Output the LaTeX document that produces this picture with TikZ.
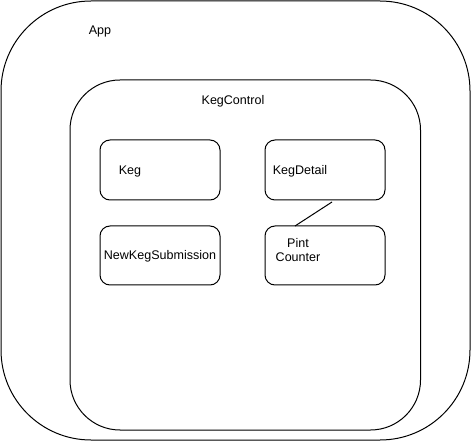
\documentclass[tikz,border=0pt]{standalone}
\usepackage{fontspec}
\setmainfont{Liberation Sans}
\begin{document}
\begin{tikzpicture}[x=0.75pt,y=-0.75pt,
  box/.style={draw=black,line width=0.75pt,rounded corners=#1},
  lbl/.style={font=\fontsize{9.4}{11.2}\selectfont,inner sep=0pt,text=black,align=center}]
\useasboundingbox (0,0) rectangle (471,441);
\fill[white] (0,0) rectangle (471,441);
\draw[box=67.5pt] (1,1) rectangle (470,440);
\draw[box=37.5pt] (70,80) rectangle (420.5,430);
\draw[box=7.5pt] (100,140) rectangle (220,200);
\draw[box=7.5pt] (265,140) rectangle (385,200);
\draw[box=7.5pt] (100,226) rectangle (220,285);
\draw[box=7.5pt] (265,226) rectangle (385,285);
\node[lbl] (app) at (100,31) {App};
\node[lbl] (kc) at (233,101) {KegControl};
\node[lbl] (keg) at (130,171) {Keg};
\node[lbl] (kd) at (300,171) {KegDetail};
\node[lbl] (nks) at (160,256) {NewKegSubmission};
\node[lbl] (pc) at (298,250) {Pint\\Counter};
\coordinate (a) at (332,202);
\coordinate (b) at (295,226);
\draw[line width=0.75pt] (a) -- (b);
\end{tikzpicture}
\end{document}
